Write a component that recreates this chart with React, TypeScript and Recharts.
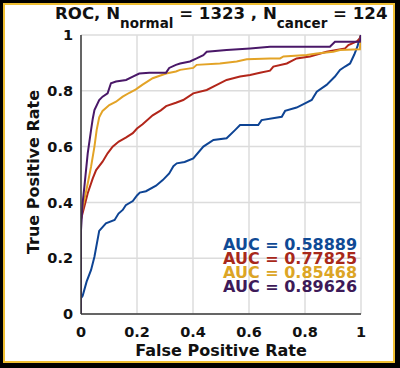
import { LineChart, Line, XAxis, YAxis, CartesianGrid } from 'recharts';

const ticks = [0, 0.2, 0.4, 0.6, 0.8, 1];

const blueFpr = [0, 0, 0.006, 0.02, 0.036, 0.048, 0.065, 0.089, 0.12, 0.134, 0.149, 0.16, 0.185, 0.2, 0.21, 0.232, 0.268, 0.292, 0.315, 0.33, 0.342, 0.37, 0.401, 0.437, 0.473, 0.52, 0.55, 0.568, 0.633, 0.645, 0.717, 0.729, 0.77, 0.8, 0.824, 0.842, 0.877, 0.907, 0.925, 0.943, 0.961, 0.976, 0.987, 0.996, 1];
const blueTpr = [0, 0.057, 0.065, 0.116, 0.158, 0.205, 0.298, 0.325, 0.337, 0.36, 0.373, 0.39, 0.405, 0.425, 0.435, 0.44, 0.46, 0.48, 0.504, 0.53, 0.54, 0.545, 0.558, 0.6, 0.624, 0.63, 0.659, 0.677, 0.677, 0.695, 0.707, 0.728, 0.74, 0.755, 0.767, 0.797, 0.821, 0.851, 0.875, 0.887, 0.898, 0.93, 0.958, 0.99, 1];

const redFpr = [0, 0, 0.012, 0.024, 0.042, 0.054, 0.077, 0.095, 0.113, 0.135, 0.16, 0.185, 0.2, 0.22, 0.256, 0.285, 0.304, 0.339, 0.365, 0.401, 0.449, 0.485, 0.52, 0.568, 0.604, 0.639, 0.675, 0.687, 0.735, 0.77, 0.818, 0.877, 0.943, 0.955, 0.985, 0.996, 1];
const redTpr = [0, 0.34, 0.385, 0.433, 0.486, 0.516, 0.546, 0.576, 0.6, 0.618, 0.632, 0.648, 0.665, 0.68, 0.712, 0.73, 0.745, 0.757, 0.767, 0.791, 0.803, 0.821, 0.839, 0.851, 0.857, 0.865, 0.872, 0.887, 0.898, 0.916, 0.923, 0.94, 0.952, 0.964, 0.977, 0.988, 1];

const goldFpr = [0, 0, 0.004, 0.012, 0.024, 0.036, 0.048, 0.056, 0.065, 0.077, 0.101, 0.125, 0.149, 0.173, 0.196, 0.22, 0.256, 0.304, 0.339, 0.354, 0.401, 0.413, 0.496, 0.556, 0.592, 0.675, 0.711, 0.723, 0.806, 0.842, 0.901, 0.925, 0.996, 1];
const goldTpr = [0, 0.34, 0.37, 0.409, 0.468, 0.528, 0.6, 0.66, 0.705, 0.728, 0.749, 0.761, 0.779, 0.793, 0.805, 0.822, 0.845, 0.862, 0.869, 0.875, 0.882, 0.893, 0.898, 0.905, 0.913, 0.916, 0.916, 0.923, 0.928, 0.934, 0.94, 0.946, 0.949, 1];

const purpleFpr = [0, 0, 0.006, 0.012, 0.024, 0.036, 0.042, 0.048, 0.065, 0.077, 0.095, 0.101, 0.107, 0.125, 0.161, 0.185, 0.208, 0.244, 0.304, 0.315, 0.339, 0.354, 0.389, 0.413, 0.437, 0.449, 0.52, 0.604, 0.675, 0.889, 0.907, 0.996, 1];
const purpleTpr = [0, 0.3, 0.4, 0.456, 0.576, 0.66, 0.7, 0.731, 0.767, 0.779, 0.791, 0.809, 0.827, 0.833, 0.839, 0.851, 0.862, 0.865, 0.865, 0.882, 0.893, 0.898, 0.905, 0.916, 0.928, 0.94, 0.946, 0.952, 0.958, 0.958, 0.976, 0.976, 1];

const aucLabels = ['AUC = 0.58889', 'AUC = 0.77825', 'AUC = 0.85468', 'AUC = 0.89626'];

const toPoints = (fpr: number[], tpr: number[]) => fpr.map((x, i) => ({ fpr: x, tpr: tpr[i] }));

const curves = [
  { name: 'blue', data: toPoints(blueFpr, blueTpr), color: '#0e4494', text: '#0f4a95' },
  { name: 'red', data: toPoints(redFpr, redTpr), color: '#b2261a', text: '#a8281a' },
  { name: 'gold', data: toPoints(goldFpr, goldTpr), color: '#e3a326', text: '#dca525' },
  { name: 'purple', data: toPoints(purpleFpr, purpleTpr), color: '#4a1868', text: '#3d1a58' },
];

const font = '"DejaVu Sans", sans-serif';
const fmt = (v: number) => String(v);

export default function App() {
  return (
    <div style={{ position: 'absolute', left: 0, top: 0, width: 400, height: 368, background: '#000', fontFamily: font }}>
      <div style={{ position: 'absolute', left: 3, top: 3, width: 392, height: 360, boxSizing: 'border-box', border: '2.5px solid #efbf33', background: '#fff' }} />
      <div style={{ position: 'absolute', left: 0, top: 0 }}>
        <LineChart width={400} height={368} margin={{ top: 35, right: 39, bottom: 0, left: 0 }}>
          <CartesianGrid stroke="#dcdcdc" strokeWidth={1.5} />
          <XAxis
            type="number"
            dataKey="fpr"
            domain={[0, 1]}
            ticks={ticks}
            tickFormatter={fmt}
            height={54}
            tickLine={false}
            tickMargin={7}
            axisLine={{ stroke: '#3a3a3a', strokeWidth: 1.5 }}
            tick={{ fill: '#111', fontSize: 14.5, fontWeight: 'bold', fontFamily: font }}
            allowDataOverflow
          />
          <YAxis
            type="number"
            domain={[0, 1]}
            ticks={ticks}
            tickFormatter={fmt}
            width={81}
            tickLine={false}
            axisLine={{ stroke: '#3a3a3a', strokeWidth: 1.5 }}
            tick={{ fill: '#111', fontSize: 14.5, fontWeight: 'bold', fontFamily: font }}
            allowDataOverflow
          />
          {curves.map((c) => (
            <Line
              key={c.name}
              data={c.data}
              dataKey="tpr"
              type="linear"
              stroke={c.color}
              strokeWidth={2}
              dot={false}
              isAnimationActive={false}
            />
          ))}
        </LineChart>
      </div>
      <div style={{ position: 'absolute', left: 55, top: 6, fontSize: 16.6, lineHeight: '16px', fontWeight: 'bold', color: '#111', whiteSpace: 'nowrap' }}>
        ROC, N<span style={{ fontSize: 13.5, position: 'relative', top: 9 }}>normal</span> = 1323 , N<span style={{ fontSize: 13.5, position: 'relative', top: 9 }}>cancer</span> = 124
      </div>
      <div style={{ position: 'absolute', left: 121, width: 200, top: 343, textAlign: 'center', fontSize: 16, lineHeight: '16px', fontWeight: 'bold', color: '#111', whiteSpace: 'nowrap' }}>
        False Positive Rate
      </div>
      <div style={{ position: 'absolute', left: -66, width: 200, top: 164, textAlign: 'center', fontSize: 16, lineHeight: '16px', fontWeight: 'bold', color: '#111', whiteSpace: 'nowrap', transform: 'rotate(-90deg)' }}>
        True Positive Rate
      </div>
      <div style={{ position: 'absolute', left: 223, top: 238, fontSize: 16, lineHeight: '14px', fontWeight: 'bold', whiteSpace: 'nowrap' }}>
        {aucLabels.map((t, i) => (
          <div key={t} style={{ color: curves[i].text }}>{t}</div>
        ))}
      </div>
    </div>
  );
}
